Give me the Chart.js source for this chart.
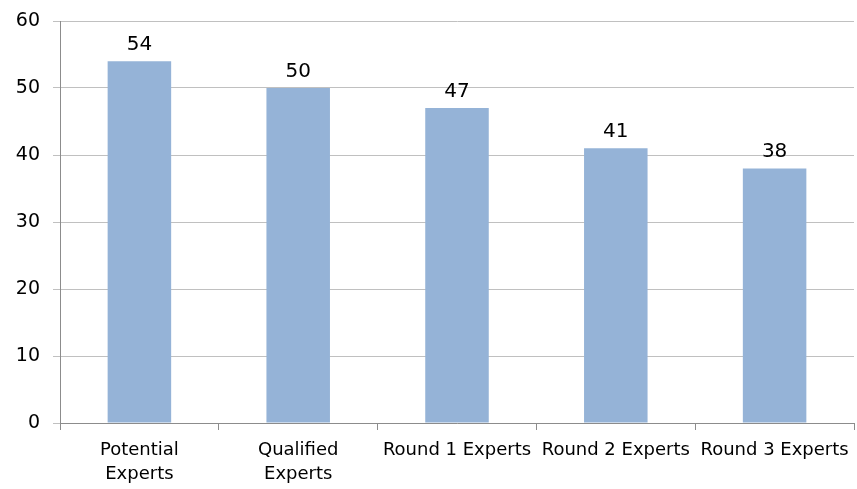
<!DOCTYPE html>
<html>
<head>
<meta charset="utf-8">
<script src="https://cdn.jsdelivr.net/npm/chart.js@4/dist/chart.umd.min.js"></script>
<style>
  html, body { margin: 0; padding: 0; background: #fff; }
  #wrap { width: 857px; height: 489px; }
</style>
</head>
<body>
<div id="wrap"><canvas id="expertsChart" width="857" height="489"></canvas></div>
<script>
const categories = [
  ['Potential', 'Experts'],
  ['Qualified', 'Experts'],
  'Round 1 Experts',
  'Round 2 Experts',
  'Round 3 Experts'
];
const experts = [54, 50, 47, 41, 38];
const yTicks = [0, 10, 20, 30, 40, 50, 60];

const FONT = '"DejaVu Sans", sans-serif';

// value labels above each bar
const barValues = {
  id: 'barValues',
  afterDatasetsDraw(chart) {
    const c = chart.ctx;
    const meta = chart.getDatasetMeta(0);
    c.save();
    c.font = '20px ' + FONT;
    c.fillStyle = '#000';
    c.textAlign = 'center';
    c.textBaseline = 'alphabetic';
    meta.data.forEach((bar, i) => {
      c.fillText(String(experts[i]), bar.x, bar.y - 11);
    });
    c.restore();
  }
};

new Chart(document.getElementById('expertsChart'), {
  type: 'bar',
  data: {
    labels: categories,
    datasets: [{
      data: experts,
      backgroundColor: '#95b3d7',
      categoryPercentage: 1,
      barPercentage: 0.4
    }]
  },
  options: {
    responsive: false,
    animation: false,
    layout: { padding: { top: 21, right: 3, left: 0, bottom: 0 } },
    plugins: {
      legend: { display: false },
      tooltip: { enabled: false }
    },
    scales: {
      x: {
        offset: true,
        grid: {
          offset: true,
          drawOnChartArea: false,
          drawTicks: true,
          tickLength: 7,
          color: '#8c8c8c'
        },
        border: { color: '#8c8c8c', width: 1 },
        ticks: {
          autoSkip: false,
          maxRotation: 0,
          minRotation: 0,
          padding: 8,
          color: '#000',
          font: { family: FONT, size: 18, lineHeight: 1.33 }
        },
        afterFit(scale) {
          scale.height = 66;
          scale.paddingLeft = 0;
          scale.paddingRight = 0;
        }
      },
      y: {
        min: 0,
        max: 60,
        afterBuildTicks(scale) { scale.ticks = yTicks.map(v => ({ value: v })); },
        grid: { color: '#c0c0c0', tickLength: 7 },
        border: { color: '#8c8c8c', width: 1 },
        ticks: {
          padding: 13,
          color: '#000',
          font: { family: FONT, size: 19 }
        },
        afterFit(scale) {
          scale.width = 60;
          scale.paddingTop = 0;
          scale.paddingBottom = 0;
        }
      }
    }
  },
  plugins: [barValues]
});
</script>
</body>
</html>
